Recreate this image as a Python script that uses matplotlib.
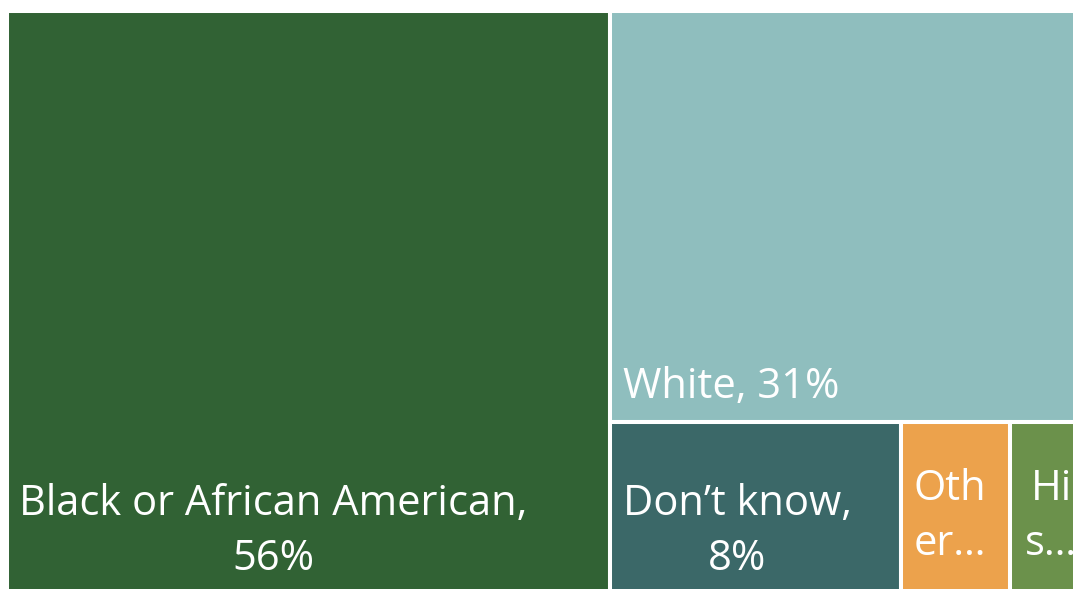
import matplotlib
matplotlib.use("Agg")
import matplotlib.pyplot as plt
from matplotlib.patches import Rectangle

# Data
categories = ["Black or African American", "White", "Don\u2019t know", "Other", "Hispanic"]
values = [56, 31, 8, 3, 2]
labels = ["Black or African American,\n56%", "White, 31%", "Don\u2019t know,\n8%", "Oth\ner\u2026", "Hi\ns\u2026"]
colors = ["#316234", "#8fbebe", "#3b6868", "#eca24c", "#6b914b"]

plt.rcParams['font.family'] = ['Open Sans', 'DejaVu Sans']

W, H = 1073, 589
fig = plt.figure(figsize=(W / 100, H / 100), dpi=100)
# treemap area in pixels (white borders eat ~2px on each side)
x0, y0, x1, y1 = 7, 11, 1083, 595
ax = fig.add_axes([x0 / W, 1 - y1 / H, (x1 - x0) / W, (y1 - y0) / H])
ax.set_xlim(0, 1)
ax.set_ylim(1, 0)
ax.axis("off")

total = sum(values)
# layout: first category takes a full-height column, second sits on top of the rest,
# the remaining ones share the bottom row
rects = []
wa = values[0] / total
rects.append((0, 0, wa, 1))
rest = total - values[0]
hb = values[1] / rest
rects.append((wa, 0, 1 - wa, hb))
row = sum(values[2:])
x = wa
for v in values[2:]:
    w = (1 - wa) * v / row
    rects.append((x, hb, w, 1 - hb))
    x += w

# label offsets (px) from rect bottom-left
pads = [(12, 15), (13, 14), (13, 15), (13, 30), (15, 30)]

for (rx, ry, rw, rh), c, lab, (px, py) in zip(rects, colors, labels, pads):
    ax.add_patch(Rectangle((rx, ry), rw, rh, facecolor=c, edgecolor="white", linewidth=2.9))
    tx = rx + px / (x1 - x0)
    ty = ry + rh - py / (y1 - y0)
    ax.text(tx, ty, lab, ha="left", va="bottom", multialignment="center",
            color="white", fontsize=30, linespacing=1.42)

fig.savefig("out.png", dpi=100)
